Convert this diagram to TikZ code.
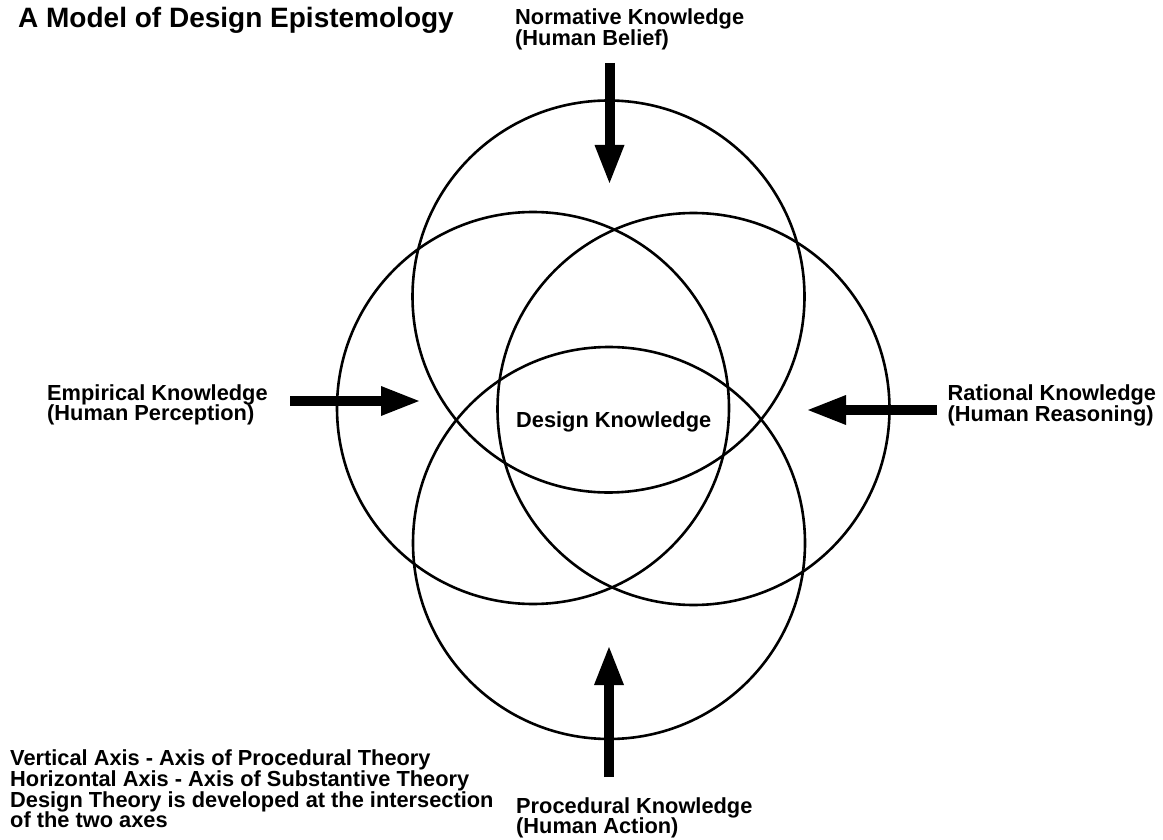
\documentclass[tikz,border=0pt]{standalone}
\usepackage{fontspec}
\setmainfont{Liberation Sans}
\usetikzlibrary{arrows.meta}
\newcommand{\stacklines}[1]{\vtop{\lineskiplimit=-20pt\relax #1}}
\begin{document}
\begin{tikzpicture}[x=1pt,y=-1pt,
  ring/.style={circle, draw, line width=2.6pt, minimum size=392pt, inner sep=0pt},
  bigarrow/.style={line width=10pt, -{Triangle[width=30pt,length=38pt,line width=0pt]}},
  lbl/.style={inner sep=0pt, anchor=base west, font=\fontsize{21.8}{20.7}\selectfont\bfseries},
  ttl/.style={inner sep=0pt, anchor=base west, font=\fontsize{28}{30}\selectfont\bfseries}]
\useasboundingbox (0,0) rectangle (1163,840);
% circles
\node[ring] (ctop) at (608.5,296.5) {};
\node[ring] (cleft) at (533,408) {};
\node[ring] (cright) at (693.5,409) {};
\node[ring] (cbot) at (609,543) {};
% title
\node[ttl] (title) at (18,28) {A Model of Design Epistemology};
% labels
\node[lbl] (norm) at (515,25) {\stacklines{\hbox{Normative Knowledge}\hbox{(Human Belief)}}};
\node[lbl] (emp) at (47,400) {\stacklines{\hbox{Empirical Knowledge}\hbox{(Human Perception)}}};
\node[lbl] (rat) at (947.5,400.7) {\stacklines{\hbox{Rational Knowledge}\hbox{(Human Reasoning)}}};
\node[lbl] (des) at (516,427) {Design Knowledge};
\node[lbl] (proc) at (516,813) {\stacklines{\hbox{Procedural Knowledge}\hbox{(Human Action)}}};
\node[lbl] (note) at (10,765.7) {\stacklines{\hbox{Vertical Axis - Axis of Procedural Theory}\hbox{Horizontal Axis - Axis of Substantive Theory}\hbox{Design Theory is developed at the intersection}\hbox{of the two axes}}};
% arrow end points
\coordinate (ta) at (609.5,63);  \coordinate (tb) at (609.5,183);
\coordinate (la) at (290,401);   \coordinate (lb) at (419,401);
\coordinate (ra) at (937,410);   \coordinate (rb) at (808,410);
\coordinate (ba) at (609,777);   \coordinate (bb) at (609,647);
\draw[bigarrow] (ta) -- (tb);
\draw[bigarrow] (la) -- (lb);
\draw[bigarrow] (ra) -- (rb);
\draw[bigarrow] (ba) -- (bb);
\end{tikzpicture}
\end{document}
